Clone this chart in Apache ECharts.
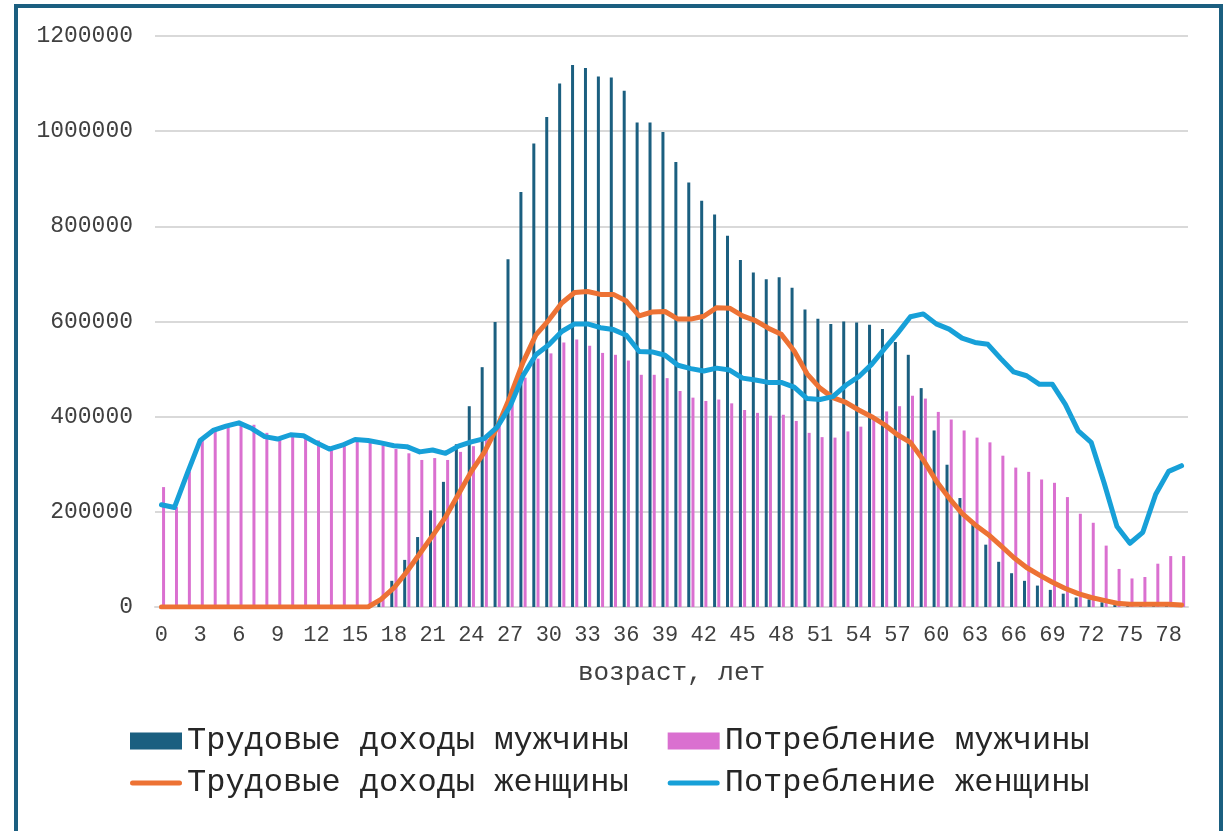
<!DOCTYPE html>
<html>
<head>
<meta charset="utf-8">
<script src="https://cdn.jsdelivr.net/npm/echarts@6/dist/echarts.min.js"></script>
<style>
html,body{margin:0;padding:0;background:#fff;}
#chart{width:1226px;height:831px;}
</style>
</head>
<body>
<div id="chart"></div>
<script>
var categories = [];
for (var a = 0; a <= 79; a++) categories.push(String(a));

var menLabour = [0,0,0,0,0,0,0,0,0,0,0,0,0,0,0,0,0,12000,55000,99000,
147000,203000,263000,342000,422000,504000,599000,731000,872000,974000,
1030000,1100000,1139000,1133000,1115000,1113000,1085000,1018000,1018000,998000,
935000,892000,854000,825000,780000,729000,703000,689000,693000,671000,
625000,606000,595000,600000,598000,593000,584000,557000,530000,460000,
371000,299000,229000,180000,131000,95000,71000,55000,45000,36000,
28000,20000,16000,10000,5000,4000,3000,2000,2000,1000];

var menConsumption = [252000,210000,285000,350000,370000,378000,388000,383000,366000,354000,
362000,358000,350000,330000,342000,354000,350000,340000,332000,323000,
309000,313000,309000,326000,338000,362000,382000,440000,482000,522000,
533000,556000,562000,549000,534000,530000,518000,488000,488000,481000,
454000,440000,433000,436000,428000,414000,408000,402000,404000,391000,
366000,357000,356000,369000,379000,394000,411000,422000,444000,438000,
410000,394000,371000,356000,346000,318000,293000,284000,268000,261000,
231000,196000,177000,129000,80000,60000,63000,91000,107000,107000];

var womenLabour = [0,0,0,0,0,0,0,0,0,0,0,0,0,0,0,0,0,16000,40000,74000,
112000,150000,189000,237000,285000,325000,378000,442000,514000,572000,
603000,639000,661000,663000,657000,657000,643000,612000,620000,621000,
605000,605000,611000,629000,628000,612000,602000,586000,573000,538000,
490000,460000,440000,430000,414000,400000,383000,362000,346000,309000,
265000,229000,197000,173000,153000,129000,104000,83000,67000,52000,
39000,28000,20000,14000,8000,6000,6000,6000,5600,4000];

var womenConsumption = [215000,209000,281000,350000,371000,380000,387000,375000,358000,353000,
362000,360000,345000,332000,340000,352000,350000,345000,339000,337000,
326000,330000,323000,338000,347000,354000,378000,422000,486000,530000,
551000,579000,595000,595000,587000,583000,571000,537000,536000,529000,
508000,501000,496000,502000,498000,481000,477000,472000,472000,462000,
438000,436000,442000,466000,484000,510000,543000,575000,610000,616000,
595000,584000,565000,556000,552000,522000,494000,486000,468000,468000,
426000,370000,346000,261000,169000,134000,157000,237000,285000,297000];

var seriesNames = ['Трудовые доходы мужчины','Потребление мужчины','Трудовые доходы женщины','Потребление женщины'];
var axisTitle = 'возраст, лет';

var chart = echarts.init(document.getElementById('chart'), null, {renderer:'canvas'});
var mono = '"Liberation Mono", "DejaVu Sans Mono", monospace';
var lineIcon = 'path://M2.5,0 L49.5,0 A2.5,2.5 0 0 1 49.5,5 L2.5,5 A2.5,2.5 0 0 1 2.5,0 Z';
var legendCommon = {
  itemWidth: 52, itemHeight: 17, itemGap: 39, padding: 0,
  textStyle: {fontFamily: mono, fontSize: 32, color: '#262626'}
};
chart.setOption({
  animation: false,
  backgroundColor: '#ffffff',
  graphic: [{
    type: 'rect',
    shape: {x: 16, y: 6, width: 1205, height: 900},
    style: {fill: 'none', stroke: '#1b5f80', lineWidth: 4},
    silent: true, z: 100
  }],
  grid: {left: 155, right: 38, top: 36, bottom: 224, containLabel: false},
  legend: [Object.assign({
    data: [{name: seriesNames[0], icon: 'rect'}, {name: seriesNames[1], icon: 'rect'}],
    left: 130, top: 725
  }, legendCommon), Object.assign({
    data: [{name: seriesNames[2], icon: lineIcon}, {name: seriesNames[3], icon: lineIcon}],
    left: 130, top: 767
  }, legendCommon)],
  xAxis: {
    type: 'category',
    data: categories,
    boundaryGap: true,
    axisLine: {lineStyle: {color: '#d9d9d9', width: 2}},
    axisTick: {show: false},
    axisLabel: {interval: 2, fontFamily: mono, fontSize: 22, color: '#404040', margin: 17},
    name: axisTitle,
    nameLocation: 'middle',
    nameGap: 53,
    nameTextStyle: {fontFamily: mono, fontSize: 26, color: '#404040'}
  },
  yAxis: {
    type: 'value',
    min: 0, max: 1200000, interval: 200000,
    axisLine: {show: false},
    axisTick: {show: false},
    splitLine: {lineStyle: {color: '#d9d9d9', width: 2}},
    axisLabel: {fontFamily: mono, fontSize: 23, color: '#404040', margin: 22,
      formatter: function (v) { return String(v); }}
  },
  series: [{
    name: seriesNames[0], type: 'bar', data: menLabour,
    barWidth: 3, barGap: '40%',
    itemStyle: {color: '#1b5f80'}
  },{
    name: seriesNames[1], type: 'bar', data: menConsumption,
    barWidth: 3, barGap: '40%',
    itemStyle: {color: '#da70d0'}
  },{
    name: seriesNames[2], type: 'line', data: womenLabour,
    symbol: 'none', showSymbol: false,
    lineStyle: {color: '#ed7234', width: 5, cap: 'round', join: 'round'},
    itemStyle: {color: '#ed7234'}
  },{
    name: seriesNames[3], type: 'line', data: womenConsumption,
    symbol: 'none', showSymbol: false,
    lineStyle: {color: '#17a0d8', width: 5, cap: 'round', join: 'round'},
    itemStyle: {color: '#17a0d8'}
  }]
});
</script>
</body>
</html>
